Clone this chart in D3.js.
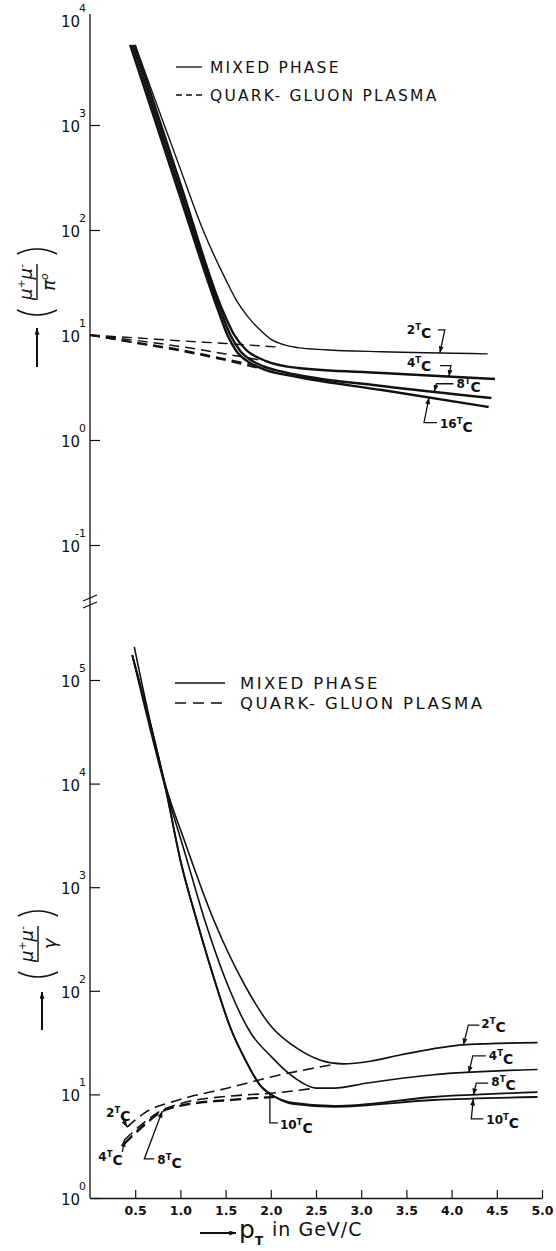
<!DOCTYPE html>
<html>
<head>
<meta charset="utf-8">
<script src="https://cdn.jsdelivr.net/npm/d3@7"></script>
<style>
  body { margin: 0; background: #fff; }
  svg { display: block; }
  text { font-family: "DejaVu Sans", sans-serif; fill: #111; }
</style>
</head>
<body>
<div id="chart"></div>
<script>
// ---- axes ----
const xTicks = [0.5, 1.0, 1.5, 2.0, 2.5, 3.0, 3.5, 4.0, 4.5, 5.0];
const topDecades = [-1, 0, 1, 2, 3, 4];
const botDecades = [0, 1, 2, 3, 4, 5];

// ---- upper panel: (mu+mu-)/pi0, mixed phase (solid) ----
const top2TcP  = [0.50, 0.75, 1.0, 1.25, 1.5, 1.62, 1.75, 1.88, 2.0, 2.15, 2.3, 2.6, 3.23, 4.40];
const top2TcV  = [5754, 1479, 380, 100, 33.9, 21.4, 14.8, 11.2, 9.12, 8.04, 7.59, 7.24, 6.92, 6.61];
const top4TcP  = [0.495, 1.0, 1.47, 1.596, 1.728, 1.947, 2.30, 3.23, 4.48];
const top4TcV  = [5780, 275, 16.9, 10, 7.2, 5.65, 4.85, 4.35, 3.81];
const top8TcP  = [0.47, 0.975, 1.445, 1.553, 1.662, 1.816, 1.97, 2.30, 3.23, 4.44];
const top8TcV  = [5780, 275, 16.9, 10, 7.04, 5.53, 4.85, 4.16, 3.27, 2.51];
const top16TcP = [0.445, 0.95, 1.42, 1.52, 1.618, 1.772, 1.947, 2.30, 3.23, 4.41];
const top16TcV = [5780, 275, 16.9, 10, 7.04, 5.41, 4.64, 3.98, 2.99, 2.06];

// ---- upper panel: quark-gluon plasma (dashed) ----
const topQ2TcP  = [0, 0.5, 1.0, 1.5, 2.06];
const topQ2TcV  = [10, 9.4, 8.8, 8.3, 7.7];
const topQ4TcP  = [0, 0.5, 1.0, 1.5, 1.947];
const topQ4TcV  = [10, 8.9, 7.76, 6.6, 5.65];
const topQ8TcP  = [0, 0.5, 1.0, 1.5, 1.97];
const topQ8TcV  = [10, 8.5, 7.24, 5.89, 4.85];
const topQ16TcP = [0, 0.5, 1.0, 1.5, 1.947];
const topQ16TcV = [10, 8.41, 7.08, 5.75, 4.64];

// ---- lower panel: (mu+mu-)/gamma, mixed phase (solid) ----
const bot2TcP  = [0.49, 0.85, 1.04, 1.37, 1.72, 2.00, 2.30, 2.55, 2.8, 3.1, 3.43, 4.16, 4.95];
const bot2TcV  = [209000, 8710, 2880, 479, 110, 45.7, 27.5, 21.4, 19.7, 20.9, 24.0, 30.2, 31.6];
const bot4TcP  = [0.467, 0.84, 1.04, 1.27, 1.53, 1.78, 2.0, 2.19, 2.35, 2.5, 2.7, 3.07, 3.80, 4.95];
const bot4TcV  = [174000, 8710, 2290, 479, 110, 38.9, 23.4, 16.2, 12.9, 11.5, 11.5, 12.9, 15.5, 17.4];
const bot8TcP  = [0.467, 0.84, 1.0, 1.18, 1.40, 1.55, 1.72, 1.88, 2.05, 2.26, 2.70, 3.80, 4.95];
const bot8TcV  = [174000, 8710, 1820, 479, 110, 44.7, 21.4, 12.3, 9.44, 8.26, 7.73, 9.44, 10.5];
const bot10TcP = [0.467, 0.84, 1.0, 1.18, 1.40, 1.55, 1.72, 1.88, 2.05, 2.26, 2.70, 3.80, 4.95];
const bot10TcV = [174000, 8710, 1820, 479, 110, 44.7, 21.4, 12.3, 9.44, 8.04, 7.59, 8.83, 9.44];

// ---- lower panel: quark-gluon plasma (dashed) ----
const botQ2TcP  = [0.41, 0.6, 0.98, 1.56, 1.97, 2.70];
const botQ2TcV  = [4.84, 6.6, 8.83, 11.7, 14.5, 19.5];
const botQ4TcP  = [0.38, 0.6, 0.80, 0.98, 1.56, 1.97, 2.5];
const botQ4TcV  = [3.63, 5.37, 7.08, 8.07, 9.66, 10.2, 11.5];
const botQ8TcP  = [0.38, 0.6, 0.80, 0.98, 1.56, 2.05];
const botQ8TcV  = [3.39, 5.13, 6.92, 7.76, 8.91, 9.44];
const botQ10TcP = [0.38, 0.6, 0.80, 0.98, 1.56, 2.05];
const botQ10TcV = [3.31, 5.01, 6.84, 7.67, 8.8, 9.44];

const W = 556, H = 1251;
const svg = d3.select("#chart").append("svg").attr("width", W).attr("height", H);

const defs = svg.append("defs");
defs.append("marker")
  .attr("id", "ah").attr("viewBox", "0 0 8 6")
  .attr("refX", 8).attr("refY", 3)
  .attr("markerWidth", 7).attr("markerHeight", 5)
  .attr("markerUnits", "userSpaceOnUse")
  .attr("orient", "auto")
  .append("path").attr("d", "M0,0L8,3L0,6z").attr("fill", "#111");

const x = d3.scaleLinear().domain([0, 5]).range([90, 542]);
const yTop = d3.scaleLog().domain([0.1, 1e4]).range([545, 20]);
const yBot = d3.scaleLog().domain([1, 1e5]).range([1198, 680]);

// vertical axis line through both panels
svg.append("line")
  .attr("x1", x(0)).attr("x2", x(0))
  .attr("y1", 14).attr("y2", yBot(1))
  .attr("stroke", "#111").attr("stroke-width", 1.3);

// axis break
[0, 7].forEach(o => {
  svg.append("line")
    .attr("x1", x(0) - 7).attr("y1", 601 + o)
    .attr("x2", x(0) + 7).attr("y2", 595 + o)
    .attr("stroke", "#111").attr("stroke-width", 1.3);
});

function yAxis(scale, decades) {
  const g = svg.append("g").attr("transform", "translate(" + x(0) + ",0)")
    .call(d3.axisRight(scale)
      .tickValues(decades.filter(d => d < 4 || scale === yBot).map(d => Math.pow(10, d)))
      .tickSize(10).tickSizeOuter(0).tickFormat(""));
  g.select(".domain").remove();
  g.selectAll(".tick line").attr("stroke", "#111").attr("stroke-width", 1.2);

  const lab = svg.append("g");
  decades.forEach(d => {
    const yy = scale(Math.pow(10, d));
    lab.append("text").attr("x", 80).attr("y", yy + 7)
      .attr("text-anchor", "end").attr("font-size", 15).text("10");
    lab.append("text").attr("x", 86).attr("y", yy - 8)
      .attr("text-anchor", "end").attr("font-size", 11).text(d < 0 ? "-" + (-d) : d);
  });
}
yAxis(yTop, topDecades);
yAxis(yBot, botDecades);

// x axis
const xg = svg.append("g").attr("transform", "translate(0," + yBot(1) + ")")
  .call(d3.axisBottom(x).tickValues(xTicks)
    .tickSizeInner(-8).tickSizeOuter(0).tickPadding(8)
    .tickFormat(d3.format(".1f")));
xg.select(".domain").attr("stroke", "#111").attr("stroke-width", 1.3);
xg.selectAll(".tick line").attr("stroke", "#111").attr("stroke-width", 1.2);
xg.selectAll(".tick text")
  .attr("font-size", 12.5).attr("font-weight", "bold")
  .style("font-family", "'DejaVu Sans', sans-serif").attr("fill", "#111");

// x axis title
svg.append("line")
  .attr("x1", 200).attr("y1", 1233).attr("x2", 236).attr("y2", 1233)
  .attr("stroke", "#111").attr("stroke-width", 2)
  .attr("marker-end", "url(#ah)");
const xt = svg.append("text").attr("x", 239).attr("y", 1238);
xt.append("tspan").attr("font-size", 25).text("p");
xt.append("tspan").attr("font-size", 12).attr("font-weight", "bold").attr("dy", 7).text("T");
xt.append("tspan").attr("font-size", 19).attr("letter-spacing", 1).attr("dy", -9).attr("dx", 9).text("in GeV/C");

// curves
function lineFor(scale) {
  return d3.line()
    .x(d => x(d[0]))
    .y(d => scale(d[1]))
    .curve(d3.curveMonotoneX);
}
const lineTop = lineFor(yTop);
const lineBot = lineFor(yBot);

const topSolid  = [[top2TcP, top2TcV], [top4TcP, top4TcV], [top8TcP, top8TcV], [top16TcP, top16TcV]];
const topDashed = [[topQ2TcP, topQ2TcV], [topQ4TcP, topQ4TcV], [topQ8TcP, topQ8TcV], [topQ16TcP, topQ16TcV]];
const botSolid  = [[bot2TcP, bot2TcV], [bot4TcP, bot4TcV], [bot8TcP, bot8TcV], [bot10TcP, bot10TcV]];
const botDashed = [[botQ2TcP, botQ2TcV], [botQ4TcP, botQ4TcV], [botQ8TcP, botQ8TcV], [botQ10TcP, botQ10TcV]];

function drawSet(set, gen, widths, dash) {
  svg.append("g").selectAll("path")
    .data(set.map(s => d3.zip(s[0], s[1])))
    .enter().append("path")
    .attr("d", gen)
    .attr("fill", "none")
    .attr("stroke", "#111")
    .attr("stroke-width", (d, i) => widths[i])
    .attr("stroke-dasharray", dash);
}
drawSet(topDashed, lineTop, [1.4, 1.5, 1.8, 1.8], "10,6");
drawSet(topSolid, lineTop, [1.4, 2.4, 2.4, 2.4], null);
drawSet(botDashed, lineBot, [1.6, 1.6, 1.8, 1.8], "11,6");
drawSet(botSolid, lineBot, [1.6, 1.6, 1.8, 1.8], null);

// value along a series (log-linear interpolation)
function valueAt(P, V, p) {
  for (let i = 0; i < P.length - 1; i++) {
    if (p >= P[i] && p <= P[i + 1]) {
      const t = (p - P[i]) / (P[i + 1] - P[i]);
      return Math.pow(10, Math.log10(V[i]) + t * (Math.log10(V[i + 1]) - Math.log10(V[i])));
    }
  }
  return V[V.length - 1];
}

function tcLabel(tx, ty, num) {
  const t = svg.append("text").attr("x", tx).attr("y", ty).attr("font-weight", "bold");
  t.append("tspan").attr("font-size", 12).text(num);
  t.append("tspan").attr("font-size", 8.5).attr("dy", -4).text("T");
  t.append("tspan").attr("font-size", 14).attr("dy", 8).text("C");
}

// leader: list of [dx,dy] relative to tip, last point is tip
function leader(px, py, pts, arrow) {
  const path = d3.path();
  pts.forEach((q, i) => i ? path.lineTo(px + q[0], py + q[1]) : path.moveTo(px + q[0], py + q[1]));
  path.lineTo(px, py);
  svg.append("path").attr("d", path.toString())
    .attr("fill", "none").attr("stroke", "#111").attr("stroke-width", 1.3)
    .attr("marker-end", arrow ? "url(#ah)" : null);
}

function annotate(scale, P, V, p, pts, num, tdx, tdy, arrow = true) {
  const px = x(p), py = scale(valueAt(P, V, p));
  leader(px, py, pts, arrow);
  tcLabel(px + tdx, py + tdy, num);
}

// upper panel labels
annotate(yTop, top2TcP, top2TcV, 3.87, [[-2, -23], [5, -23]], "2", -33, -19);
annotate(yTop, top4TcP, top4TcV, 3.97, [[-9, -11], [2, -11]], "4", -42, -10);
annotate(yTop, top8TcP, top8TcV, 3.81, [[19, -8], [2, -8]], "8", 22, -4);
annotate(yTop, top16TcP, top16TcV, 3.75, [[8, 25], [-5, 25]], "16", 11, 30);

// lower panel labels (right)
annotate(yBot, bot2TcP, bot2TcV, 4.13, [[16, -20], [5, -20]], "2", 18, -17);
annotate(yBot, bot4TcP, bot4TcV, 4.19, [[17, -17], [4, -17]], "4", 20, -13);
annotate(yBot, bot8TcP, bot8TcV, 4.24, [[15, -12], [3, -12]], "8", 18, -9);
annotate(yBot, bot10TcP, bot10TcV, 4.24, [[10, 20], [-2, 20]], "10", 13, 25);
// lower panel labels (middle / left)
annotate(yBot, bot10TcP, bot10TcV, 1.99, [[8, 30], [0, 30]], "10", 10, 36, false);
annotate(yBot, botQ2TcP, botQ2TcV, 0.41, [[-6, -11]], "2", -21, -10);
annotate(yBot, botQ4TcP, botQ4TcV, 0.38, [[-2, 12]], "4", -26, 21);
annotate(yBot, botQ8TcP, botQ8TcV, 0.80, [[-8, 48], [-18, 48]], "8", -5, 53);

// legends
function legend(lx, ly, len, pad, gap, size, ls, dash) {
  const g = svg.append("g");
  g.append("line").attr("x1", lx).attr("x2", lx + len).attr("y1", ly).attr("y2", ly)
    .attr("stroke", "#111").attr("stroke-width", 1.3);
  g.append("line").attr("x1", lx).attr("x2", lx + len).attr("y1", ly + gap).attr("y2", ly + gap)
    .attr("stroke", "#111").attr("stroke-width", 1.3).attr("stroke-dasharray", dash);
  g.append("text").attr("x", lx + len + pad).attr("y", ly + 6)
    .attr("font-size", size).attr("letter-spacing", ls).text("MIXED PHASE");
  g.append("text").attr("x", lx + len + pad).attr("y", ly + gap + 6)
    .attr("font-size", size).attr("letter-spacing", ls).text("QUARK- GLUON PLASMA");
}
legend(176, 67, 26, 8, 28, 15.5, 2.2, "6,4");
legend(175, 683, 50, 15, 20, 16.5, 2.4, "11,7");

// y axis titles (rotated fraction + up arrow)
function yTitle(cx, cy, den, ax, ay1, ay2) {
  const g = svg.append("g").attr("transform", "translate(" + cx + "," + cy + ") rotate(-90)");
  g.append("line").attr("x1", -18).attr("x2", 18).attr("y1", 0).attr("y2", 0)
    .attr("stroke", "#111").attr("stroke-width", 1.4);
  const num = g.append("text").attr("x", 0).attr("y", -5).attr("text-anchor", "middle")
    .attr("font-size", 18).attr("font-style", "italic");
  num.append("tspan").text("μ");
  num.append("tspan").attr("font-size", 11).attr("dy", -7).text("+");
  num.append("tspan").attr("dy", 7).text("μ");
  num.append("tspan").attr("font-size", 11).attr("dy", -7).text("-");
  const dn = g.append("text").attr("x", 0).attr("y", 18).attr("text-anchor", "middle")
    .attr("font-size", 18).attr("font-style", "italic");
  dn.append("tspan").text(den[0]);
  if (den[1]) dn.append("tspan").attr("font-size", 11).attr("dy", -7).text(den[1]);
  g.append("path").attr("d", "M-28,-20 Q-38,0 -28,20").attr("fill", "none")
    .attr("stroke", "#111").attr("stroke-width", 1.4);
  g.append("path").attr("d", "M28,-20 Q38,0 28,20").attr("fill", "none")
    .attr("stroke", "#111").attr("stroke-width", 1.4);
  svg.append("line").attr("x1", ax).attr("x2", ax).attr("y1", ay1).attr("y2", ay2)
    .attr("stroke", "#111").attr("stroke-width", 2).attr("marker-end", "url(#ah)");
}
yTitle(37, 282, ["π", "o"], 37, 367, 328);
yTitle(38, 944, ["γ"], 42, 1030, 992);
</script>
</body>
</html>
